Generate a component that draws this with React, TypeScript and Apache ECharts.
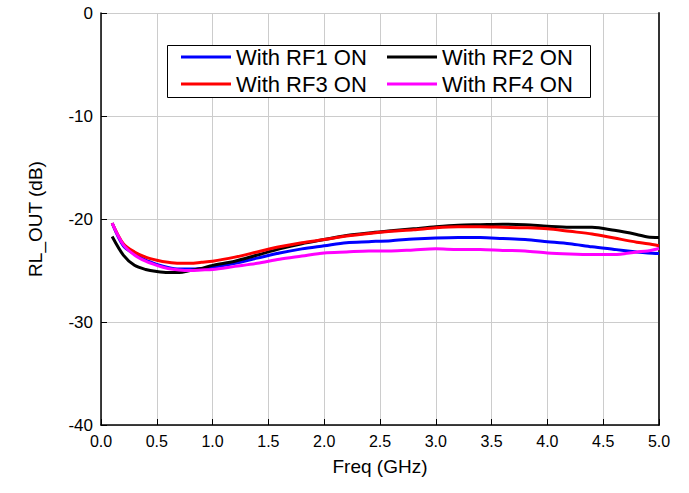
import React, { useEffect, useRef } from "react";
import * as echarts from "echarts";

const freq = [0.1, 0.2, 0.3, 0.4, 0.5, 0.6, 0.7, 0.8, 0.9, 1.0, 1.2, 1.4, 1.6, 1.8, 2.0, 2.2, 2.4, 2.6, 2.8, 3.0, 3.2, 3.4, 3.6, 3.8, 4.0, 4.2, 4.4, 4.6, 4.8, 4.9, 5.0];

const rf1 = [-20.4, -22.6, -23.4, -24.0, -24.4, -24.7, -24.85, -24.85, -24.8, -24.7, -24.3, -23.8, -23.3, -22.9, -22.6, -22.3, -22.2, -22.1, -21.95, -21.85, -21.8, -21.8, -21.9, -22.0, -22.2, -22.4, -22.7, -22.95, -23.2, -23.3, -23.35];
const rf2 = [-21.7, -23.5, -24.5, -24.9, -25.1, -25.2, -25.2, -25.0, -24.8, -24.5, -24.1, -23.5, -22.9, -22.4, -22.0, -21.6, -21.35, -21.15, -20.95, -20.75, -20.6, -20.55, -20.5, -20.55, -20.7, -20.8, -20.8, -21.1, -21.5, -21.75, -21.8];
const rf3 = [-20.4, -22.4, -23.2, -23.7, -24.0, -24.2, -24.3, -24.3, -24.2, -24.1, -23.7, -23.2, -22.7, -22.3, -22.0, -21.65, -21.4, -21.2, -21.05, -20.85, -20.75, -20.75, -20.8, -20.85, -20.95, -21.2, -21.45, -21.85, -22.25, -22.4, -22.6];
const rf4 = [-20.4, -22.5, -23.5, -24.1, -24.5, -24.8, -24.95, -25.0, -24.95, -24.9, -24.6, -24.3, -23.9, -23.6, -23.3, -23.2, -23.1, -23.1, -23.0, -22.9, -22.95, -22.95, -23.05, -23.1, -23.3, -23.4, -23.45, -23.45, -23.2, -23.1, -22.85];

const seriesNames = ["With RF1 ON", "With RF2 ON", "With RF3 ON", "With RF4 ON"];
const seriesColors = ["#0000ff", "#000000", "#ff0000", "#ff00ff"];
const seriesValues = [rf1, rf2, rf3, rf4];

const FONT = "'Liberation Sans', Arial, sans-serif";

export default function App() {
  const ref = useRef<HTMLDivElement>(null);
  useEffect(() => {
    if (!ref.current) return;
    const chart = echarts.init(ref.current, undefined, { renderer: "svg" });
    const legendCommon = {
      orient: "vertical" as const,
      icon: "rect",
      itemWidth: 50,
      itemHeight: 3,
      itemGap: 5,
      padding: 0,
      top: 46,
      z: 10,
      textStyle: { fontFamily: FONT, fontSize: 22, color: "#000", lineHeight: 22 },
    };
    chart.setOption({
      animation: false,
      backgroundColor: "#fff",
      textStyle: { fontFamily: FONT },
      grid: { left: 101, right: 30, top: 13, bottom: 68 },
      graphic: [
        {
          type: "rect",
          z: 5,
          shape: { x: 167.5, y: 45.5, width: 423, height: 52 },
          style: { fill: "#fff", stroke: "#000", lineWidth: 1 },
        },
      ],
      legend: [
        { ...legendCommon, left: 181, data: [seriesNames[0], seriesNames[2]] },
        { ...legendCommon, left: 387, data: [seriesNames[1], seriesNames[3]] },
      ],
      xAxis: [
        {
          type: "value",
          min: 0,
          max: 5,
          interval: 0.5,
          name: "Freq (GHz)",
          nameLocation: "middle",
          nameGap: 32,
          nameTextStyle: { fontFamily: FONT, fontSize: 19, color: "#000" },
          axisLine: { show: true, onZero: false, lineStyle: { color: "#000", width: 1.5 } },
          axisTick: { show: true, inside: true, length: 6, lineStyle: { color: "#000" } },
          axisLabel: {
            fontFamily: FONT,
            fontSize: 16,
            color: "#000",
            margin: 8,
            formatter: (v: number) => v.toFixed(1),
          },
          splitLine: { show: true, lineStyle: { color: "#cccccc", width: 1 } },
        },
      ],
      yAxis: [
        {
          type: "value",
          min: -40,
          max: 0,
          interval: 10,
          name: "RL_OUT (dB)",
          nameLocation: "middle",
          nameRotate: 90,
          nameGap: 56,
          nameTextStyle: { fontFamily: FONT, fontSize: 19, color: "#000" },
          axisLine: { show: true, onZero: false, lineStyle: { color: "#000", width: 1.5 } },
          axisTick: { show: true, inside: true, length: 6, lineStyle: { color: "#000" } },
          axisLabel: { fontFamily: FONT, fontSize: 17, color: "#000", margin: 8 },
          splitLine: { show: true, lineStyle: { color: "#cccccc", width: 1 } },
        },
        {
          type: "value",
          position: "right",
          min: -40,
          max: 0,
          interval: 10,
          axisLine: { show: true, onZero: false, lineStyle: { color: "#333", width: 2 } },
          axisTick: { show: false },
          axisLabel: { show: false },
          splitLine: { show: false },
        },
      ],
      series: seriesNames.map((name, i) => ({
        name,
        type: "line",
        yAxisIndex: 0,
        showSymbol: false,
        symbol: "none",
        smooth: 0.3,
        color: seriesColors[i],
        lineStyle: { color: seriesColors[i], width: 3 },
        data: freq.map((f, j) => [f, seriesValues[i][j]]),
      })),
    });
    return () => chart.dispose();
  }, []);
  return <div ref={ref} style={{ width: 689, height: 493, position: "absolute", left: 0, top: 0 }} />;
}
